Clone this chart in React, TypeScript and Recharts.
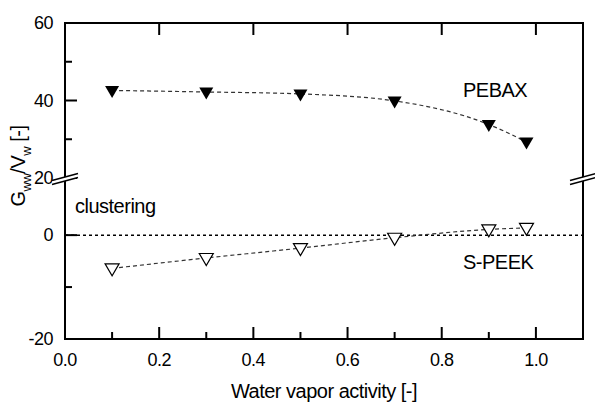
import { Line, LineChart, ReferenceLine, XAxis, YAxis } from 'recharts'

// water vapor activity of the measured points
const waterActivity = [0.1, 0.3, 0.5, 0.7, 0.9, 0.98]
// Gww/Vw
const pebaxValues = [42.6, 42.2, 41.7, 39.9, 33.8, 29.3]
const speekValues = [-6.4, -4.4, -2.5, -0.5, 1.1, 1.4]

const xMajorTicks = [0, 0.2, 0.4, 0.6, 0.8, 1.0]
const xMinorTicks = [0.1, 0.3, 0.5, 0.7, 0.9]
const upperMajorTicks = [20, 40, 60]
const upperMinorTicks = [30, 50]
const upperRightTicks = [40]
const lowerMajorTicks = [-20, 0]
const lowerMinorTicks = [-10]
const lowerRightTicks = [0]

const pebaxData = waterActivity.map((a, i) => ({ activity: a, g: pebaxValues[i] }))
const speekData = waterActivity.map((a, i) => ({ activity: a, g: speekValues[i] }))

const W = 595
const H = 404
const PLOT_LEFT = 65
const PLOT_RIGHT = 583
const PLOT_TOP = 23
const BREAK_Y = 178
const PLOT_BOTTOM = 339
const MAJOR_TICK = 12
const MINOR_TICK = 7

const FONT = '"Liberation Sans", Arial, Helvetica, sans-serif'
const frameLine = { stroke: '#000', strokeWidth: 2, strokeLinecap: 'square' as const }
const seriesLine = { stroke: '#333', strokeWidth: 1.2, strokeDasharray: '4 3' }

type Side = 'left' | 'right' | 'top' | 'bottom'

function axisTick(side: Side, majors: number[], labelled: boolean, format: (v: number) => string) {
  return (props: any) => {
    const { x, y, payload, index } = props
    const value = payload.value as number
    const major = majors.includes(value)
    const len = major ? MAJOR_TICK : MINOR_TICK
    let x2 = x
    let y2 = y
    if (side === 'left') x2 = x + len
    else if (side === 'right') x2 = x - len
    else if (side === 'top') y2 = y + len
    else y2 = y - len
    const textStyle = { fontFamily: FONT, fontSize: 18, letterSpacing: -0.5, fill: '#000' }
    return (
      <g key={`tick-${side}-${index}`}>
        <line x1={x} y1={y} x2={x2} y2={y2} stroke="#000" strokeWidth={2} />
        {labelled && major && side === 'left' && (
          <text x={x - 12} y={y + 6} textAnchor="end" {...textStyle}>
            {format(value)}
          </text>
        )}
        {labelled && major && side === 'bottom' && (
          <text x={x} y={y + 27} textAnchor="middle" {...textStyle}>
            {format(value)}
          </text>
        )}
      </g>
    )
  }
}

function FilledTriangle(props: any) {
  const { cx, cy } = props
  if (cx == null || cy == null) return null
  return (
    <polygon
      key={`f-${cx}-${cy}`}
      points={`${cx - 7},${cy - 4.5} ${cx + 7},${cy - 4.5} ${cx},${cy + 7.5}`}
      fill="#000"
    />
  )
}

function OpenTriangle(props: any) {
  const { cx, cy } = props
  if (cx == null || cy == null) return null
  return (
    <polygon
      key={`o-${cx}-${cy}`}
      points={`${cx - 7},${cy - 4.5} ${cx + 7},${cy - 4.5} ${cx},${cy + 7.5}`}
      fill="#fff"
      stroke="#000"
      strokeWidth={1.2}
    />
  )
}

function AxisBreak({ x }: { x: number }) {
  const yb = BREAK_Y + 1
  const half = 13
  const rise = 3.5
  const gap = 2
  const upper = [x - half, yb - gap + rise, x + half, yb - gap - rise]
  const lower = [x - half, yb + gap + rise, x + half, yb + gap - rise]
  return (
    <g>
      <polygon
        points={`${upper[0]},${upper[1]} ${upper[2]},${upper[3]} ${lower[2]},${lower[3]} ${lower[0]},${lower[1]}`}
        fill="#fff"
      />
      <line x1={upper[0]} y1={upper[1]} x2={upper[2]} y2={upper[3]} stroke="#000" strokeWidth={1.5} />
      <line x1={lower[0]} y1={lower[1]} x2={lower[2]} y2={lower[3]} stroke="#000" strokeWidth={1.5} />
    </g>
  )
}

const layer = { position: 'absolute' as const, left: 0, top: 0 }
const fmtX = (v: number) => v.toFixed(1)
const fmtY = (v: number) => String(v)

export default function App() {
  const annotation = { fontFamily: FONT, fontSize: 20, letterSpacing: -0.5, fill: '#000' }
  return (
    <div style={{ ...layer, width: W, height: H, background: '#fff' }}>
      <div style={layer}>
        <LineChart
          width={W}
          height={H}
          data={pebaxData}
          margin={{ top: PLOT_TOP - 10, right: W - PLOT_RIGHT - 10, bottom: H - BREAK_Y, left: PLOT_LEFT - 50 }}
        >
          <XAxis
            xAxisId="top"
            orientation="top"
            type="number"
            dataKey="activity"
            domain={[0, 1.1]}
            ticks={xMajorTicks}
            interval={0}
            height={10}
            axisLine={frameLine}
            tickLine={false}
            tickSize={0}
            tickMargin={0}
            tick={axisTick('top', xMajorTicks, false, fmtX)}
          />
          <YAxis
            yAxisId="left"
            type="number"
            domain={[20, 60]}
            ticks={[...upperMajorTicks, ...upperMinorTicks]}
            interval={0}
            width={50}
            axisLine={frameLine}
            tickLine={false}
            tickSize={0}
            tickMargin={0}
            tick={axisTick('left', upperMajorTicks, true, fmtY)}
          />
          <YAxis
            yAxisId="right"
            orientation="right"
            type="number"
            domain={[20, 60]}
            ticks={upperRightTicks}
            interval={0}
            width={10}
            axisLine={frameLine}
            tickLine={false}
            tickSize={0}
            tickMargin={0}
            tick={axisTick('right', upperRightTicks, false, fmtY)}
          />
          <Line
            xAxisId="top"
            yAxisId="left"
            type="monotone"
            dataKey="g"
            name="PEBAX"
            {...seriesLine}
            dot={FilledTriangle}
            activeDot={false}
            isAnimationActive={false}
          />
        </LineChart>
      </div>
      <div style={layer}>
        <LineChart
          width={W}
          height={H}
          data={speekData}
          margin={{ top: BREAK_Y, right: W - PLOT_RIGHT - 10, bottom: H - PLOT_BOTTOM - 30, left: PLOT_LEFT - 50 }}
        >
          <XAxis
            type="number"
            dataKey="activity"
            domain={[0, 1.1]}
            ticks={[...xMajorTicks, ...xMinorTicks]}
            interval={0}
            height={30}
            axisLine={frameLine}
            tickLine={false}
            tickSize={0}
            tickMargin={0}
            tick={axisTick('bottom', xMajorTicks, true, fmtX)}
            label={{
              content: ({ viewBox }: any) => (
                <text x={viewBox.x + viewBox.width / 2} y={viewBox.y + 59} textAnchor="middle" {...annotation}>
                  Water vapor activity [-]
                </text>
              ),
            }}
          />
          <YAxis
            yAxisId="left"
            type="number"
            domain={[-20, 11]}
            ticks={[...lowerMajorTicks, ...lowerMinorTicks]}
            interval={0}
            width={50}
            axisLine={frameLine}
            tickLine={false}
            tickSize={0}
            tickMargin={0}
            tick={axisTick('left', lowerMajorTicks, true, fmtY)}
          />
          <YAxis
            yAxisId="right"
            orientation="right"
            type="number"
            domain={[-20, 11]}
            ticks={lowerRightTicks}
            interval={0}
            width={10}
            axisLine={frameLine}
            tickLine={false}
            tickSize={0}
            tickMargin={0}
            tick={axisTick('right', lowerRightTicks, false, fmtY)}
          />
          <ReferenceLine yAxisId="left" y={0} stroke="#000" strokeWidth={1.5} strokeDasharray="3 3" />
          <Line
            yAxisId="left"
            type="monotone"
            dataKey="g"
            name="S-PEEK"
            {...seriesLine}
            dot={OpenTriangle}
            activeDot={false}
            isAnimationActive={false}
          />
        </LineChart>
      </div>
      <svg style={{ ...layer, pointerEvents: 'none' }} width={W} height={H}>
        <AxisBreak x={PLOT_LEFT} />
        <AxisBreak x={PLOT_RIGHT} />
        <text x={463} y={97} {...annotation}>PEBAX</text>
        <text x={463} y={269} {...annotation}>S-PEEK</text>
        <text x={75} y={212.5} {...annotation}>clustering</text>
        <text transform="rotate(-90, 25, 166)" x={25} y={166} textAnchor="middle" {...annotation}>
          G
          <tspan fontSize={13} dy={6}>ww</tspan>
          <tspan dy={-6}>/V</tspan>
          <tspan fontSize={13} dy={6}>w</tspan>
          <tspan dy={-6}> [-]</tspan>
        </text>
      </svg>
    </div>
  )
}
